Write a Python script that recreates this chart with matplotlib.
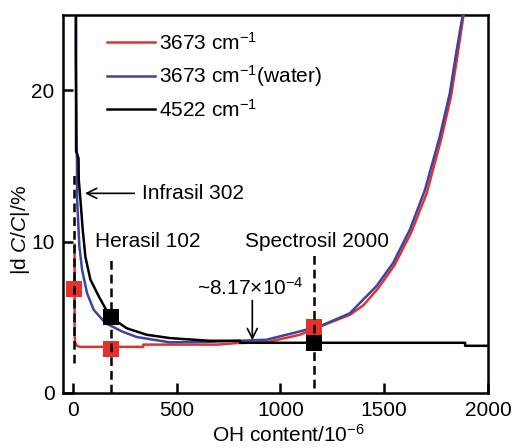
import numpy as np
import matplotlib
matplotlib.use("Agg")
import matplotlib.pyplot as plt

plt.rcParams["font.family"] = ["Liberation Sans", "DejaVu Sans"]
plt.rcParams["mathtext.fontset"] = "custom"
plt.rcParams["mathtext.rm"] = "Liberation Sans"
plt.rcParams["mathtext.it"] = "Liberation Sans:italic"

RED = "#e8302a"
BLUE = "#3a44a2"

# |dC/C| vs OH content, 3673 cm-1 band (dry)
oh_3673 = [9, 9, 12, 20, 35, 340, 340, 700, 790, 933, 1094, 1174, 1335,
           1400, 1470, 1550, 1630, 1705, 1775, 1822, 1853, 1888]
err_3673 = [9.8, 3.8, 3.3, 3.12, 3.05, 3.05, 3.2, 3.2, 3.3, 3.35, 3.85, 4.3,
            5.17, 5.8, 6.9, 8.45, 10.6, 13.2, 16.8, 19.6, 22.3, 25.5]

# 3673 cm-1 band with water correction
oh_water = [14, 14, 20, 21, 32, 45, 69, 101, 157, 237, 308, 468, 650, 800,
            933, 1094, 1206, 1335, 1383, 1462, 1543, 1624, 1696, 1768, 1816,
            1847, 1885]
err_water = [25.5, 22.4, 16, 12.8, 9.7, 8.15, 6.6, 5.5, 4.63, 4.07, 3.70,
             3.35, 3.38, 3.45, 3.52, 4.07, 4.5, 5.27, 5.95, 7.05, 8.59, 10.8,
             13.4, 16.96, 19.8, 22.47, 25.5]

# 4522 cm-1 combination band
oh_4522 = [16, 16, 28, 29, 37, 48, 61, 85, 125, 157, 184, 260, 356, 468, 661,
           806, 806, 1890, 1890, 2000]
err_4522 = [25.5, 16, 15.5, 14.1, 12.8, 10.8, 9.0, 7.5, 6.4, 5.6, 5.0, 4.28,
            3.85, 3.63, 3.45, 3.45, 3.32, 3.32, 3.12, 3.12]

# glass grades and their OH contents
glass_names = ["Infrasil 302", "Herasil 102", "Spectrosil 2000"]
glass_oh = [8, 184, 1162]
glass_err_3673 = [6.87, 2.93, 4.36]
glass_err_4522 = [None, 5.02, 3.30]

min_err_label = "~8.17$\\times$10$^{-4}$"
min_err_oh = 865


def draw(ax):
    ax.plot(oh_3673, err_3673, color=RED, lw=1.8, label="3673 cm$^{-1}$", zorder=3)
    ax.plot(oh_water, err_water, color=BLUE, lw=1.8,
            label="3673 cm$^{-1}$(water)", zorder=4)
    ax.plot(oh_4522, err_4522, color="black", lw=1.8,
            label="4522 cm$^{-1}$", zorder=5)

    ax.plot(glass_oh, glass_err_3673, "s", color=RED, ms=12, mew=0, zorder=6)
    pts = [(x, y) for x, y in zip(glass_oh, glass_err_4522) if y is not None]
    ax.plot([p[0] for p in pts], [p[1] for p in pts], "s", color="black",
            ms=12, mew=0, zorder=6)

    # vertical dashed guides at each glass
    spans = [(2.0, 14.6), (0.0, 9.0), (0.3, 9.1)]
    for x, (y0, y1) in zip(glass_oh, spans):
        ax.plot([x, x], [y0, y1], color="black", lw=1.8,
                ls=(0, (3.5, 2)), zorder=7)

    ax.annotate("", xy=(45, 13.2), xytext=(310, 13.2),
                arrowprops=dict(arrowstyle="->", lw=1.2, color="black",
                                mutation_scale=18))
    ax.text(335, 13.2, glass_names[0], fontsize=15, va="center", ha="left")
    ax.text(107, 10.0, glass_names[1], fontsize=15, va="center", ha="left")
    ax.text(830, 10.0, glass_names[2], fontsize=15, va="center", ha="left")

    ax.annotate("", xy=(min_err_oh, 3.3), xytext=(min_err_oh, 6.3),
                arrowprops=dict(arrowstyle="->", lw=1.2, color="black",
                                mutation_scale=18))
    ax.text(597, 6.94, min_err_label, fontsize=15, va="center", ha="left")


def main():
    fig = plt.figure(figsize=(5.12, 4.48), dpi=100)
    ax = fig.add_axes([0.123, 0.1228, 0.830, 0.844])
    draw(ax)

    ax.set_xlim(-47, 2000)
    ax.set_ylim(0, 25)
    ax.set_xticks([0, 500, 1000, 1500, 2000])
    ax.set_yticks([0, 10, 20])
    ax.tick_params(direction="in", length=7, width=1.8, labelsize=15, pad=6)
    for s in ax.spines.values():
        s.set_linewidth(1.8)

    ax.set_xlabel("OH content/10$^{-6}$", fontsize=15)
    ax.set_ylabel("|d $C$/$C$|/%", fontsize=15)
    ax.xaxis.set_label_coords(0.53, -0.083)
    ax.yaxis.set_label_coords(-0.072, 0.43)

    ax.legend(loc="upper left", bbox_to_anchor=(0.103, 0.955), frameon=False,
              fontsize=15, handlelength=2.3, handletextpad=0.2,
              labelspacing=0.45, borderaxespad=0, borderpad=0)

    fig.savefig("out.png", dpi=100)


if __name__ == "__main__":
    main()
